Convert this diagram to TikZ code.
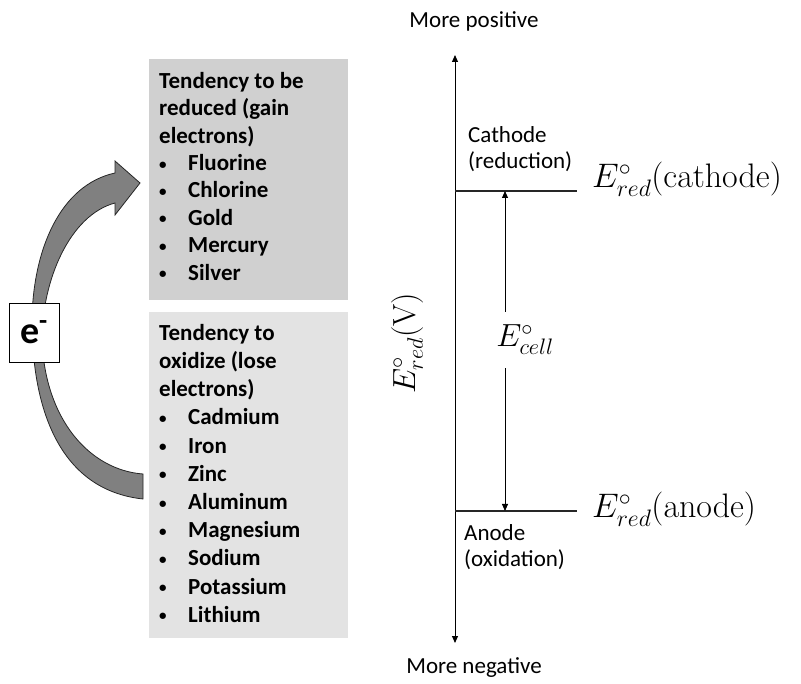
\RequirePackage{fix-cm}
\documentclass[tikz,border=0pt]{standalone}
\usepackage[no-math]{fontspec}
\setmainfont{Carlito}
\usetikzlibrary{arrows.meta}

\definecolor{reducebox}{RGB}{208,208,208}
\definecolor{oxidbox}{RGB}{227,227,227}
\definecolor{flowgray}{RGB}{128,128,128}
\newcommand{\bul}[1]{\makebox[29pt][l]{\raisebox{1.5pt}{\fontsize{15}{15}\selectfont\textbullet}}#1}

\begin{document}
\begin{tikzpicture}[x=1pt,y=-1pt,
    lbl/.style={font=\fontsize{23}{26.5}\selectfont, inner sep=0pt, align=left},
    listtxt/.style={font=\bfseries\fontsize{23}{27.4}\selectfont, inner sep=0pt, align=left, anchor=north west},
    shade/.style={minimum width=199pt, anchor=north west, inner sep=0pt},
    pot/.style={font=\fontsize{32}{36}\selectfont, inner sep=0pt},
    axis/.style={line width=1pt, {Triangle[length=7pt,width=6pt]}-{Triangle[length=7pt,width=6pt]}},
    level/.style={line width=1.2pt, black!85}]

\useasboundingbox (0,0) rectangle (801,684);

% the two shaded lists
\node[shade, fill=reducebox, minimum height=241pt] (redbox) at (149,59) {};
\node[shade, fill=oxidbox, minimum height=326pt] (oxbox) at (149,312) {};

\node[listtxt] (redlist) at (159,72) {Tendency to be\\reduced (gain\\electrons)\\
    \bul{Fluorine}\\\bul{Chlorine}\\\bul{Gold}\\\bul{Mercury}\\\bul{Silver}};
\node[listtxt, font=\bfseries\fontsize{23}{28.2}\selectfont] (oxlist) at (159,324) {Tendency to\\oxidize (lose\\electrons)\\
    \bul{Cadmium}\\\bul{Iron}\\\bul{Zinc}\\\bul{Aluminum}\\\bul{Magnesium}\\\bul{Sodium}\\\bul{Potassium}\\\bul{Lithium}};

% curved electron flow, partly behind the e- box
\draw[black!85, line width=0.8pt, fill=flowgray]
    (143,474) .. controls (90,470) and (45,420) .. (42,340)
    .. controls (42,280) and (70,215) .. (115,203)
    -- (115,215) -- (140,183) -- (115,161) -- (115,173)
    .. controls (60,185) and (33,250) .. (32,320)
    .. controls (32,410) and (60,490) .. (143,499) -- cycle;

\node[draw, fill=white, minimum width=50pt, minimum height=59pt, inner sep=0pt,
    font=\bfseries\fontsize{38}{40}\selectfont] (elec) at (34,332.5) {e\textsuperscript{-}};

% potential axis
\node[lbl, anchor=base] (pos) at (474,28) {More positive};
\node[lbl, anchor=base] (neg) at (474,673) {More negative};
\coordinate (axtop) at (455,55);
\coordinate (axbot) at (455,643);
\draw[axis] (axbot) -- (axtop);

\node[pot, rotate=90] (eaxis) at (407,343) {$E^{\circ}_{red}(\mathrm{V})$};

% electrode levels
\coordinate (cath) at (455,191);
\coordinate (cathend) at (577,191);
\coordinate (anod) at (455,511);
\coordinate (anodend) at (577,511);
\draw[level] (cath) -- (cathend);
\draw[level] (anod) -- (anodend);

\node[lbl, anchor=north west] (cathtxt) at (468,126) {Cathode\\(reduction)};
\node[lbl, anchor=north west] (anodtxt) at (464,524) {Anode\\(oxidation)};

\node[pot, anchor=base west, font=\fontsize{34}{38}\selectfont] (ecath) at (592,188) {$E^{\circ}_{red}(\mathrm{cathode})$};
\node[pot, anchor=base west, font=\fontsize{34}{38}\selectfont] (eanod) at (592,518) {$E^{\circ}_{red}(\mathrm{anode})$};

% cell potential
\coordinate (celltop) at (505,191);
\coordinate (cellbot) at (505,511);
\draw[axis, line width=0.8pt] (celltop) -- (cellbot);
\node[pot, fill=white, minimum height=56pt] (ecell) at (525,340) {$E^{\circ}_{cell}$};

\end{tikzpicture}
\end{document}
